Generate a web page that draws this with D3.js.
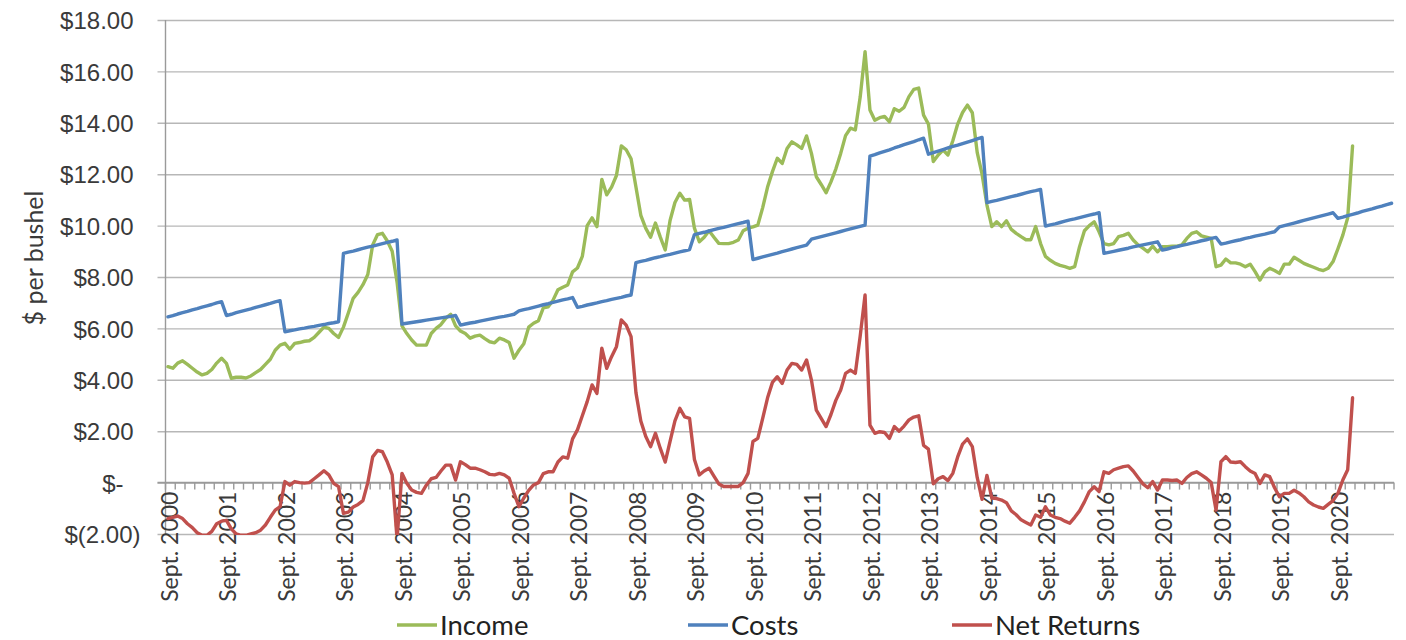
<!DOCTYPE html>
<html><head><meta charset="utf-8">
<script src="https://cdn.jsdelivr.net/npm/d3@7"></script>
<style>
body{margin:0;background:#fff;}
svg{display:block;font-family:Lato,"Open Sans",sans-serif;}
</style></head>
<body><svg id="chart" width="1406" height="640"></svg>
<script>
// ---------- data ----------
const startMonth = "2000-09";      // first category (Sept. 2000), monthly categories
const monthCount = 252;            // Sept. 2000 .. Aug. 2021
const xTickLabels = ["Sept. 2000","Sept. 2001","Sept. 2002","Sept. 2003","Sept. 2004","Sept. 2005","Sept. 2006","Sept. 2007","Sept. 2008","Sept. 2009","Sept. 2010","Sept. 2011","Sept. 2012","Sept. 2013","Sept. 2014","Sept. 2015","Sept. 2016","Sept. 2017","Sept. 2018","Sept. 2019","Sept. 2020"];
const yTicks = [-2,0,2,4,6,8,10,12,14,16,18];
const seriesNames = ["Income","Costs","Net Returns"];

const income = [
 4.51,4.45,4.65,4.74,4.6,4.45,4.3,4.19,4.25,4.4,4.65,4.84,
 4.64,4.06,4.1,4.1,4.07,4.15,4.28,4.4,4.6,4.8,5.15,5.35,
 5.42,5.19,5.42,5.45,5.5,5.52,5.65,5.85,6.05,6.0,5.8,5.65,
 6.05,6.6,7.17,7.4,7.7,8.1,9.25,9.65,9.7,9.4,9.0,7.8,
 6.1,5.8,5.55,5.35,5.35,5.35,5.8,6.0,6.15,6.4,6.55,6.1,
 5.9,5.8,5.62,5.7,5.74,5.6,5.48,5.44,5.62,5.55,5.45,4.84,
 5.15,5.4,6.05,6.2,6.3,6.8,6.84,7.1,7.5,7.6,7.69,8.2,
 8.35,8.8,10.0,10.3,9.96,11.8,11.2,11.5,11.95,13.1,12.95,12.6,
 11.5,10.4,9.9,9.55,10.1,9.55,9.05,10.2,10.9,11.26,10.99,11.02,
 9.9,9.37,9.55,9.8,9.55,9.31,9.3,9.3,9.35,9.44,9.8,9.9,
 9.95,10.02,10.7,11.5,12.1,12.62,12.42,13.0,13.26,13.14,13.0,13.49,
 12.81,11.9,11.6,11.28,11.7,12.2,12.81,13.5,13.79,13.72,15.0,16.77,
 14.5,14.1,14.2,14.25,14.04,14.55,14.45,14.6,15.02,15.3,15.35,14.3,
 13.95,12.49,12.75,12.94,12.75,13.3,13.95,14.4,14.69,14.39,12.85,12.0,
 10.8,9.96,10.15,9.96,10.19,9.85,9.7,9.57,9.45,9.45,9.96,9.3,
 8.8,8.65,8.53,8.45,8.4,8.34,8.4,9.18,9.8,10.0,10.15,9.76,
 9.3,9.25,9.3,9.57,9.62,9.7,9.44,9.25,9.12,8.98,9.2,8.98,
 9.18,9.18,9.2,9.2,9.25,9.5,9.7,9.76,9.6,9.55,9.5,8.4,
 8.46,8.7,8.55,8.55,8.5,8.4,8.5,8.21,7.88,8.2,8.34,8.25,
 8.14,8.5,8.5,8.77,8.65,8.53,8.45,8.38,8.3,8.25,8.34,8.6,
 9.1,9.63,10.3,13.1
];

const costs = [
 6.45,6.50,6.56,6.61,6.66,6.72,6.77,6.83,6.88,6.93,6.99,7.04,
 6.50,6.55,6.61,6.66,6.71,6.76,6.82,6.87,6.92,6.97,7.03,7.08,
 5.87,5.91,5.94,5.98,6.01,6.05,6.08,6.12,6.15,6.19,6.22,6.26,
 8.92,8.97,9.01,9.06,9.11,9.16,9.20,9.25,9.30,9.35,9.39,9.44,
 6.17,6.20,6.23,6.26,6.29,6.32,6.35,6.38,6.41,6.44,6.47,6.50,
 6.13,6.17,6.21,6.24,6.28,6.32,6.36,6.40,6.44,6.47,6.51,6.55,
 6.68,6.73,6.77,6.82,6.87,6.92,6.96,7.01,7.06,7.11,7.15,7.20,
 6.82,6.86,6.91,6.95,6.99,7.04,7.08,7.13,7.17,7.21,7.26,7.30,
 8.56,8.61,8.65,8.70,8.75,8.79,8.84,8.88,8.93,8.98,9.02,9.07,
 9.65,9.70,9.74,9.79,9.84,9.89,9.93,9.98,10.03,10.08,10.12,10.17,
 8.68,8.73,8.78,8.83,8.88,8.93,8.99,9.04,9.09,9.14,9.19,9.24,
 9.47,9.52,9.57,9.62,9.67,9.72,9.77,9.82,9.87,9.92,9.97,10.02,
 12.70,12.76,12.83,12.89,12.95,13.02,13.08,13.15,13.21,13.27,13.34,13.40,
 12.78,12.84,12.90,12.96,13.02,13.08,13.13,13.19,13.25,13.31,13.37,13.43,
 10.89,10.94,10.98,11.03,11.08,11.13,11.17,11.22,11.27,11.32,11.36,11.41,
 9.98,10.03,10.07,10.12,10.17,10.22,10.26,10.31,10.36,10.41,10.45,10.50,
 8.92,8.96,9.00,9.04,9.08,9.12,9.17,9.21,9.25,9.29,9.33,9.37,
 9.05,9.09,9.14,9.18,9.23,9.27,9.32,9.36,9.41,9.45,9.50,9.54,
 9.28,9.32,9.37,9.41,9.45,9.50,9.54,9.59,9.63,9.67,9.72,9.76,
 9.95,10.00,10.05,10.10,10.15,10.20,10.25,10.30,10.35,10.40,10.45,10.50,
 10.28,10.33,10.39,10.44,10.49,10.55,10.60,10.65,10.71,10.76,10.82,10.87
];

const netReturns = [
 -1.4,-1.35,-1.3,-1.4,-1.6,-1.75,-1.95,-2.05,-2.05,-1.9,-1.6,-1.5,
 -1.47,-1.8,-2.0,-2.05,-2.05,-2.0,-1.95,-1.85,-1.65,-1.35,-1.07,-0.94,
 0.04,-0.1,0.04,0.0,-0.02,0.0,0.15,0.3,0.46,0.3,-0.03,-0.16,
 -1.2,-1.15,-0.95,-0.85,-0.7,0.0,1.0,1.25,1.2,0.8,0.3,-2.2,
 0.36,-0.03,-0.29,-0.38,-0.42,-0.1,0.15,0.2,0.45,0.68,0.68,0.1,
 0.81,0.7,0.56,0.56,0.5,0.42,0.32,0.3,0.36,0.3,0.17,-0.42,
 -0.94,-0.6,-0.3,-0.09,0.0,0.35,0.42,0.42,0.8,1.0,0.95,1.7,
 2.05,2.6,3.15,3.8,3.47,5.23,4.45,4.9,5.29,6.33,6.13,5.68,
 3.5,2.4,1.8,1.4,1.92,1.33,0.8,1.6,2.4,2.89,2.56,2.5,
 0.9,0.3,0.45,0.56,0.25,-0.05,-0.15,-0.15,-0.15,-0.15,0.0,0.36,
 1.6,1.72,2.5,3.3,3.9,4.12,3.86,4.38,4.64,4.6,4.38,4.77,
 3.99,2.82,2.5,2.18,2.65,3.2,3.6,4.25,4.38,4.25,5.7,7.3,
 2.24,1.92,1.98,1.95,1.72,2.18,2.0,2.2,2.44,2.55,2.6,1.45,
 1.3,-0.05,0.15,0.23,0.08,0.36,1.0,1.5,1.7,1.4,0.2,-0.65,
 0.28,-0.6,-0.62,-0.68,-0.78,-1.1,-1.25,-1.45,-1.55,-1.65,-1.26,-1.35,
 -0.94,-1.26,-1.35,-1.4,-1.5,-1.58,-1.35,-1.1,-0.75,-0.35,-0.16,-0.35,
 0.42,0.36,0.5,0.56,0.62,0.65,0.45,0.2,-0.05,-0.2,0.04,-0.29,
 0.1,0.1,0.08,0.1,-0.03,0.2,0.35,0.42,0.3,0.17,0.0,-1.07,
 0.81,1.01,0.8,0.78,0.81,0.62,0.45,0.35,-0.03,0.3,0.23,-0.2,
 -0.55,-0.42,-0.42,-0.3,-0.4,-0.55,-0.75,-0.87,-0.95,-1.0,-0.85,-0.7,
 -0.42,0.1,0.5,3.3
];

// ---------- chart ----------
const plot = {left:165.5, right:1394, top:20, bottom:534};
const colors = {Income:"#9BBB59", Costs:"#4F81BD", "Net Returns":"#C0504D"};
const gridColor = "#b7b7b7", axisColor = "#9a9a9a", textColor = "#3a3a3a";

const parseMonth = d3.timeParse("%Y-%m");
const start = parseMonth(startMonth);
const categories = d3.range(monthCount).map(i => d3.timeMonth.offset(start, i));

const x = d3.scaleBand().domain(categories.map(d => +d)).range([plot.left, plot.right]).padding(0);
const xc = i => x(+categories[i]) + x.bandwidth()/2;
const y = d3.scaleLinear().domain([-2,18]).range([plot.bottom, plot.top]);

const svg = d3.select("#chart");

svg.append("defs").append("clipPath").attr("id","plotclip")
  .append("rect").attr("x",plot.left).attr("y",plot.top-4)
  .attr("width",plot.right-plot.left+4).attr("height",plot.bottom-plot.top+5);

// gridlines + y axis labels
const yAxis = d3.axisLeft(y).tickValues(yTicks).tickSize(plot.right-plot.left+8)
  .tickFormat(v => v < 0 ? `$(${(-v).toFixed(2)})` : v === 0 ? "$-" : `$${v.toFixed(2)}`);
const gy = svg.append("g").attr("transform",`translate(${plot.right},0)`).call(yAxis);
gy.select(".domain").remove();
gy.selectAll(".tick line").attr("stroke",gridColor).attr("stroke-width",1.4);
gy.selectAll(".tick text")
  .attr("fill",textColor).attr("font-size",24)
  .attr("x", v => -(plot.right-plot.left+8) - (v < 0 ? 17 : v === 0 ? 34 : 24))
  .attr("dy","0.36em");

// y axis line
svg.append("line").attr("x1",plot.left).attr("x2",plot.left)
  .attr("y1",plot.top).attr("y2",plot.bottom)
  .attr("stroke",axisColor).attr("stroke-width",1.4);

// x axis at zero
const zeroY = y(0);
svg.append("line").attr("x1",plot.left-8).attr("x2",plot.right)
  .attr("y1",zeroY).attr("y2",zeroY).attr("stroke",axisColor).attr("stroke-width",1.6);
const tickIdx = d3.range(0, monthCount+1, 2);
svg.append("g").selectAll("line").data(tickIdx).join("line")
  .attr("x1", i => i < monthCount ? x(+categories[i]) : plot.right)
  .attr("x2", i => i < monthCount ? x(+categories[i]) : plot.right)
  .attr("y1", zeroY).attr("y2", zeroY+7)
  .attr("stroke",axisColor).attr("stroke-width",1.4);

// x labels every 12 months
svg.append("g").selectAll("text").data(xTickLabels).join("text")
  .attr("transform",(d,k) => `translate(${xc(k*12)+1.5},${zeroY+9}) rotate(-90)`)
  .attr("text-anchor","end").attr("dy","0.35em")
  .attr("font-size",23).attr("fill",textColor)
  .text(d => d);

// y axis title
svg.append("text").attr("transform","translate(34,258) rotate(-90)")
  .attr("text-anchor","middle").attr("dy","0.35em")
  .attr("font-size",25).attr("fill",textColor).text("$ per bushel");

// lines
const line = d3.line().x((d,i) => xc(i)).y(d => y(d));
const gl = svg.append("g").attr("clip-path","url(#plotclip)");
[["Income",income],["Costs",costs],["Net Returns",netReturns]].forEach(([name,vals]) => {
  gl.append("path").datum(vals).attr("d",line)
    .attr("fill","none").attr("stroke",colors[name]).attr("stroke-width",3.4)
    .attr("stroke-linejoin","round").attr("stroke-linecap","round");
});

// legend
const legendX = [397, 688, 952];
const lg = svg.append("g").selectAll("g").data(seriesNames).join("g")
  .attr("transform",(d,i) => `translate(${legendX[i]},625)`);
lg.append("line").attr("x1",0).attr("x2",40).attr("stroke",d => colors[d]).attr("stroke-width",3.4);
lg.append("text").attr("x",43).attr("dy","0.35em").attr("font-size",27.5)
  .attr("fill","#222").text(d => d);
</script>
</body></html>
